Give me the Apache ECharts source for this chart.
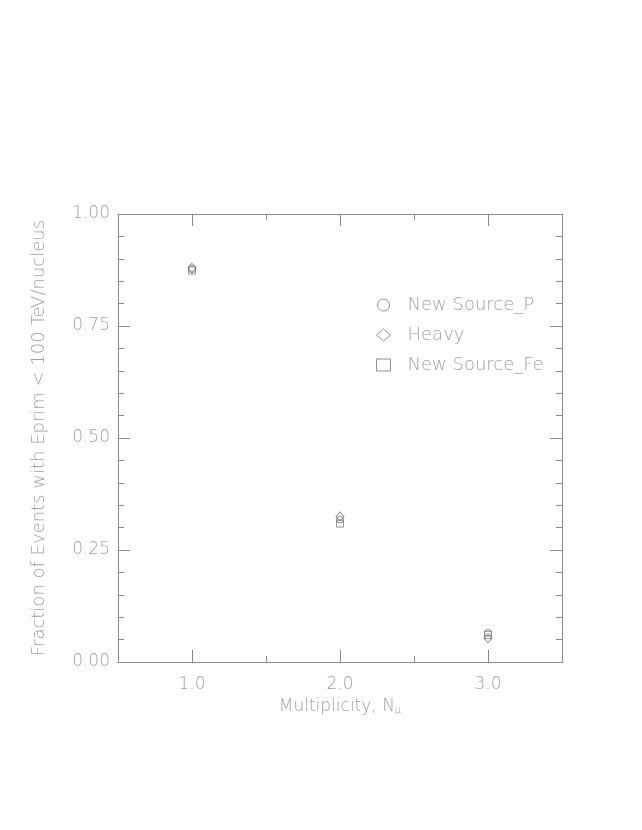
<!DOCTYPE html>
<html>
<head>
<meta charset="utf-8">
<script src="https://cdn.jsdelivr.net/npm/echarts@6/dist/echarts.min.js"></script>
<style>
html, body { margin: 0; padding: 0; background: #fff; }
#chart { width: 642px; height: 830px; }
</style>
</head>
<body>
<div id="chart"></div>
<script>
// multiplicity values
const multiplicity = [1, 2, 3]
const newSourceP = [0.877, 0.318, 0.065]
const heavy = [0.880, 0.325, 0.053]
const newSourceFe = [0.874, 0.309, 0.060]
const xLabelValues = [1, 2, 3]
const xMinorValues = [1.5, 2.5]

const axisColor = '#8a8a8a'
const textColor = '#a0a0a0'
const font = "'DejaVu Sans', sans-serif"
const fs = 17

const pairs = (ys) => multiplicity.map((x, i) => [x, ys[i]])

const chart = echarts.init(document.getElementById('chart'))

const xBase = {
	type: 'value',
	min: 0.5,
	max: 3.5,
	splitLine: { show: false },
	axisLine: { lineStyle: { color: axisColor } },
}
const markStyle = { color: 'rgba(255,255,255,0)', borderColor: '#777', borderWidth: 1 }

chart.setOption({
	animation: false,
	grid: { left: 118, right: 80, top: 214, bottom: 168 },
	legend: {
		orient: 'vertical',
		left: 371,
		top: 291,
		itemWidth: 14,
		itemHeight: 12,
		itemGap: 12,
		textStyle: { color: textColor, fontSize: 18, fontWeight: 200, fontFamily: font, padding: [0, 0, 0, 12] },
		data: [
			{ name: 'New Source_P', icon: 'circle' },
			{ name: 'Heavy', icon: 'diamond' },
			{ name: 'New Source_Fe', icon: 'rect' },
		],
		itemStyle: markStyle,
	},
	xAxis: [
		{
			...xBase,
			position: 'bottom',
			name: 'Multiplicity, N{sub|μ}',
			nameLocation: 'middle',
			nameGap: 34,
			nameTextStyle: {
				color: textColor,
				fontSize: fs,
				fontWeight: 200,
				fontFamily: font,
				rich: { sub: { fontSize: 10, color: textColor, fontFamily: font, verticalAlign: 'bottom', padding: [9, 0, 0, 0] } },
			},
			axisTick: { inside: true, length: 12, customValues: xLabelValues, lineStyle: { color: axisColor } },
			axisLabel: {
				customValues: xLabelValues,
				formatter: (v) => v.toFixed(1),
				color: textColor,
				fontSize: fs,
				fontWeight: 200,
				fontFamily: font,
				margin: 14,
			},
		},
		{
			...xBase,
			position: 'bottom',
			axisTick: { inside: true, length: 6, customValues: xMinorValues, lineStyle: { color: axisColor } },
			axisLabel: { show: false },
		},
		{
			...xBase,
			position: 'top',
			axisTick: { inside: true, length: 12, customValues: xLabelValues, lineStyle: { color: axisColor } },
			axisLabel: { show: false },
		},
		{
			...xBase,
			position: 'top',
			axisTick: { inside: true, length: 6, customValues: xMinorValues, lineStyle: { color: axisColor } },
			axisLabel: { show: false },
		},
	],
	yAxis: [
		{
			type: 'value',
			min: 0,
			max: 1,
			interval: 0.25,
			position: 'left',
			name: 'Fraction of Events with Eprim < 100 TeV/nucleus',
			nameLocation: 'middle',
			nameGap: 70,
			nameTextStyle: { color: textColor, fontSize: 18, fontWeight: 200, fontFamily: font },
			splitLine: { show: false },
			axisLine: { show: true, lineStyle: { color: axisColor } },
			axisTick: { inside: true, length: 12, lineStyle: { color: axisColor } },
			minorTick: { show: true, splitNumber: 5, length: 6, lineStyle: { color: axisColor } },
			axisLabel: { formatter: (v) => v.toFixed(2), color: textColor, fontSize: fs, fontWeight: 200, fontFamily: font, margin: 8 },
		},
		{
			type: 'value',
			min: 0,
			max: 1,
			interval: 0.25,
			position: 'right',
			splitLine: { show: false },
			axisLine: { show: true, lineStyle: { color: axisColor } },
			axisTick: { inside: true, length: 12, lineStyle: { color: axisColor } },
			minorTick: { show: true, splitNumber: 5, length: 6, lineStyle: { color: axisColor } },
			axisLabel: { show: false },
		},
	],
	series: [
		{
			name: 'New Source_P',
			type: 'scatter',
			symbol: 'circle',
			symbolSize: 7,
			data: pairs(newSourceP),
			itemStyle: markStyle,
		},
		{
			name: 'Heavy',
			type: 'scatter',
			symbol: 'diamond',
			symbolSize: [8, 9],
			data: pairs(heavy),
			itemStyle: markStyle,
		},
		{
			name: 'New Source_Fe',
			type: 'scatter',
			symbol: 'rect',
			symbolSize: 7,
			data: pairs(newSourceFe),
			itemStyle: markStyle,
		},
	],
})
</script>
</body>
</html>
